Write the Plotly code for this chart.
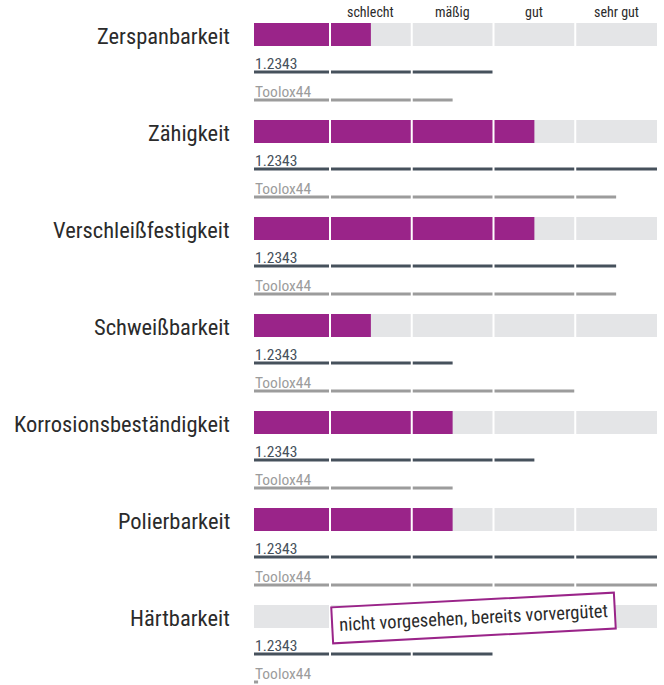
import plotly.graph_objects as go

# ---- data ----
categories = ["Zerspanbarkeit", "Zähigkeit", "Verschleißfestigkeit", "Schweißbarkeit",
              "Korrosionsbeständigkeit", "Polierbarkeit", "Härtbarkeit"]
rating_main = [1.5, 3.5, 3.5, 1.5, 2.5, 2.5, 0]
rating_12343 = [3, 5, 4.5, 2.5, 3.5, 5, 3]
rating_toolox = [2.5, 4.5, 4.5, 4, 2.5, 5, 0]
scale_labels = ["schlecht", "mäßig", "gut", "sehr gut"]
series_names = ["1.2343", "Toolox44"]
note_text = "nicht vorgesehen, bereits vorvergütet"

# ---- style ----
W, H = 664, 685
FONT = "Liberation Sans Narrow, Roboto Condensed, DejaVu Sans Condensed, sans-serif"
PURPLE = "#9a2489"
BG = "#e4e5e7"
DARK = "#46515c"
GREY = "#9c9c9c"
TXT = "#2b2b2b"

UNIT = 81.75          # px per scale unit
X0PX = 248.25         # px position of value 0
def px2x(p):
    return (p - X0PX) / UNIT

START = px2x(254)
MAXV = 5
ROW_STEP = 97
BAR_H = 23

fig = go.Figure()

n = len(categories)
centers = [23 + ROW_STEP * i + BAR_H / 2 for i in range(n)]

# background bars
fig.add_trace(go.Bar(
    y=centers, x=[MAXV - START] * n, base=[START] * n, orientation="h",
    width=BAR_H, marker=dict(color=BG, line=dict(width=0)), hoverinfo="skip"))
# main rating bars
fig.add_trace(go.Bar(
    y=centers, x=[max(v - START, 0) for v in rating_main], base=[START] * n, orientation="h",
    width=BAR_H, marker=dict(color=PURPLE, line=dict(width=0)), hoverinfo="skip"))

annotations = []
for vals, name, col, off in [(rating_12343, series_names[0], DARK, 49),
                             (rating_toolox, series_names[1], GREY, 77)]:
    xs, ys = [], []
    for i, v in enumerate(vals):
        y = 23 + ROW_STEP * i + off
        xs += [START, max(v, START + 0.05), None]
        ys += [y, y, None]
        annotations.append(dict(x=START, y=y + 3, xanchor="left", yanchor="bottom",
                                text=name, showarrow=False, xshift=-1,
                                font=dict(family=FONT, size=15.5, color=col)))
    fig.add_trace(go.Scatter(x=xs, y=ys, mode="lines",
                             line=dict(color=col, width=3), hoverinfo="skip"))

for i, c in enumerate(categories):
    annotations.append(dict(x=px2x(232), y=centers[i] + 1, xanchor="right", yanchor="middle",
                            text=c, showarrow=False,
                            font=dict(family=FONT, size=22.5, color=TXT)))

for k, lab in enumerate(scale_labels):
    annotations.append(dict(x=k + 1.5, y=12, xanchor="center", yanchor="middle",
                            text=lab, showarrow=False,
                            font=dict(family=FONT, size=14, color=TXT)))

# note for Härtbarkeit
idx = categories.index("Härtbarkeit")
annotations.append(dict(x=px2x(473), y=centers[idx] + 1.5, xanchor="center", yanchor="middle",
                        text=note_text, showarrow=False, textangle=-3,
                        bgcolor="white", bordercolor=PURPLE, borderwidth=2, borderpad=6,
                        font=dict(family=FONT, size=18.5, color=TXT)))

shapes = [dict(type="line", x0=k, x1=k, y0=0, y1=H, xref="x", yref="y",
               line=dict(color="white", width=2), layer="above") for k in range(1, 5)]

fig.update_layout(
    width=W, height=H, margin=dict(l=0, r=0, t=0, b=0),
    paper_bgcolor="white", plot_bgcolor="white",
    barmode="overlay", showlegend=False,
    xaxis=dict(range=[px2x(0), px2x(W)], visible=False, fixedrange=True),
    yaxis=dict(range=[H, 0], visible=False, fixedrange=True),
    annotations=annotations, shapes=shapes,
)

fig.write_html("out.html", config={"displayModeBar": False},
               post_script="document.body.style.margin='0';document.body.style.overflow='hidden';")
